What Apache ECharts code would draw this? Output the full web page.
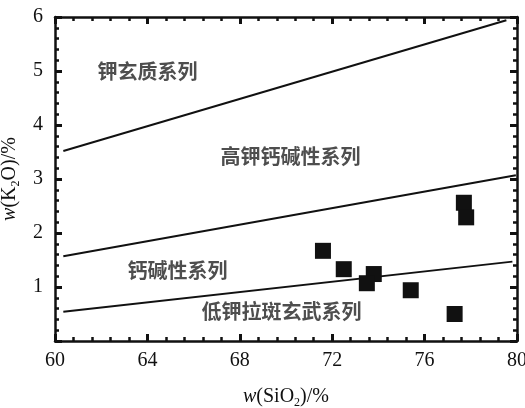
<!DOCTYPE html>
<html>
<head>
<meta charset="utf-8">
<script src="https://cdn.jsdelivr.net/npm/echarts@6/dist/echarts.min.js"></script>
<style>
  html, body { margin: 0; padding: 0; background: #fff; }
  #chart { width: 525px; height: 408px; }
</style>
</head>
<body>
<div id="chart"></div>
<script>
// 样品点 SiO2 / K2O
var sampleSiO2 = [71.6, 72.5, 73.8, 73.5, 75.4, 77.3, 77.7, 77.8];
var sampleK2O = [1.67, 1.33, 1.24, 1.07, 0.94, 0.50, 2.56, 2.29];

// 分界线
var lineShoshonite = [[60.36, 3.52], [79.54, 5.94]];
var lineHighK = [[60.36, 1.57], [79.95, 3.07]];
var lineLowK = [[60.36, 0.54], [79.8, 1.47]];

// 区域名称
var zoneNames = ['钾玄质系列', '高钾钙碱性系列', '钙碱性系列', '低钾拉斑玄武系列'];
var zoneX = [64.0, 70.2, 65.3, 69.8];
var zoneY = [5.0, 3.41, 1.30, 0.54];

var xTicks = [60, 64, 68, 72, 76, 80];
var yTicks = [1, 2, 3, 4, 5, 6];

var serif = 'Liberation Serif';
var cjk = 'Noto Sans CJK SC';
var ink = '#111';

var chart = echarts.init(document.getElementById('chart'));

function boundary(data) {
  return {
    type: 'line',
    data: data,
    symbol: 'none',
    silent: true,
    lineStyle: { color: ink, width: 2 },
    z: 2
  };
}

function frameAxis(extra) {
  var ax = {
    type: 'value',
    axisLine: { show: true, onZero: false, lineStyle: { color: ink, width: 2.5 } },
    axisTick: { show: true, inside: true, length: 7, lineStyle: { color: ink, width: 3 } },
    minorTick: { show: true, splitNumber: 5, length: 4, lineStyle: { color: ink, width: 2.5 } },
    splitLine: { show: false },
    minorSplitLine: { show: false }
  };
  for (var k in extra) ax[k] = extra[k];
  return ax;
}

var nameRich = {
  i: { fontFamily: serif, fontStyle: 'italic', fontSize: 20, color: ink },
  s: { fontFamily: serif, fontSize: 12, color: ink, padding: [12, 0, 0, 0] }
};

chart.setOption({
  animation: false,
  grid: { left: 55, right: 8, top: 17, bottom: 67, containLabel: false, outerBoundsMode: 'none' },
  xAxis: [
    frameAxis({
      min: 60, max: 80, interval: 4,
      name: '{i|w}(SiO{s|2})/%',
      nameLocation: 'middle',
      nameGap: 44,
      nameTextStyle: { fontFamily: serif, fontSize: 20, color: ink, rich: nameRich },
      axisLabel: {
        fontFamily: serif, fontSize: 20, color: ink, margin: 10,
        formatter: function (v) { return xTicks.indexOf(v) >= 0 ? v : ''; }
      }
    }),
    frameAxis({
      position: 'top',
      min: 60, max: 80, interval: 4,
      axisLabel: { show: false }
    })
  ],
  yAxis: [
    frameAxis({
      min: 0, max: 6, interval: 1,
      name: '{i|w}(K{s|2}O)/%',
      nameLocation: 'middle',
      nameGap: 26,
      nameTextStyle: { fontFamily: serif, fontSize: 20, color: ink, rich: nameRich },
      axisLabel: {
        fontFamily: serif, fontSize: 20, color: ink, margin: 12,
        formatter: function (v) { return yTicks.indexOf(v) >= 0 ? v : ''; }
      }
    }),
    frameAxis({
      position: 'right',
      min: 0, max: 6, interval: 1,
      axisLabel: { show: false }
    })
  ],
  series: [
    boundary(lineShoshonite),
    boundary(lineHighK),
    boundary(lineLowK),
    {
      type: 'scatter',
      symbol: 'rect',
      symbolSize: 16,
      itemStyle: { color: '#111', opacity: 1 },
      data: sampleSiO2.map(function (x, i) { return [x, sampleK2O[i]]; }),
      z: 3
    },
    {
      type: 'scatter',
      symbolSize: 0,
      silent: true,
      label: {
        show: true,
        position: 'inside',
        fontFamily: cjk,
        fontSize: 20,
        fontWeight: 'bold',
        color: '#222',
        formatter: function (p) { return p.data[2]; }
      },
      data: zoneNames.map(function (n, i) { return [zoneX[i], zoneY[i], n]; }),
      z: 4
    }
  ]
});
</script>
</body>
</html>
